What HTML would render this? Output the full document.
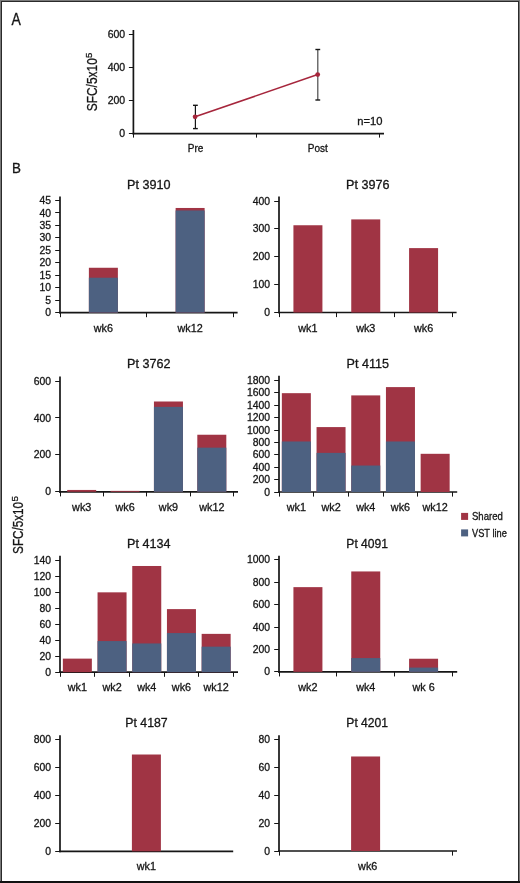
<!DOCTYPE html><html><head><meta charset="utf-8"><style>html,body{margin:0;padding:0;background:#fff;}body{width:520px;height:883px;overflow:hidden;}svg{display:block;will-change:transform;font-family:"Liberation Sans",sans-serif;}text{stroke:#151515;stroke-width:0.3px;}</style></head><body>
<svg width="520" height="883" viewBox="0 0 520 883">
<rect x="0" y="0" width="520" height="883" fill="#fff"/>
<text transform="translate(11.5,24.6) scale(0.9,1)" font-size="15.6" fill="#151515">A</text>
<line x1="133.4" y1="30" x2="133.4" y2="134.45" stroke="#161616" stroke-width="1.7"/>
<line x1="132.55" y1="133.6" x2="384" y2="133.6" stroke="#161616" stroke-width="1.7"/>
<line x1="128.9" y1="133.5" x2="133.4" y2="133.5" stroke="#151515" stroke-width="1.0"/>
<text x="125.2" y="137.3" font-size="10.5" text-anchor="end" fill="#151515">0</text>
<line x1="128.9" y1="100.5" x2="133.4" y2="100.5" stroke="#151515" stroke-width="1.0"/>
<text x="125.2" y="104.1" font-size="10.5" text-anchor="end" fill="#151515">200</text>
<line x1="128.9" y1="67.5" x2="133.4" y2="67.5" stroke="#151515" stroke-width="1.0"/>
<text x="125.2" y="70.9" font-size="10.5" text-anchor="end" fill="#151515">400</text>
<line x1="128.9" y1="34.5" x2="133.4" y2="34.5" stroke="#151515" stroke-width="1.0"/>
<text x="125.2" y="37.7" font-size="10.5" text-anchor="end" fill="#151515">600</text>
<line x1="133.5" y1="133.6" x2="133.5" y2="137.6" stroke="#151515" stroke-width="1.0"/>
<line x1="256.5" y1="133.6" x2="256.5" y2="137.6" stroke="#151515" stroke-width="1.0"/>
<line x1="379.5" y1="133.6" x2="379.5" y2="137.6" stroke="#151515" stroke-width="1.0"/>
<line x1="195.4" y1="105.3" x2="195.4" y2="128.6" stroke="#151515" stroke-width="1.2"/>
<line x1="193" y1="105.3" x2="197.8" y2="105.3" stroke="#151515" stroke-width="1.4"/>
<line x1="193" y1="128.6" x2="197.8" y2="128.6" stroke="#151515" stroke-width="1.4"/>
<line x1="317.8" y1="49.5" x2="317.8" y2="100" stroke="#4a4a4a" stroke-width="1.2"/>
<line x1="315.4" y1="49.5" x2="320.2" y2="49.5" stroke="#151515" stroke-width="1.4"/>
<line x1="315.4" y1="100" x2="320.2" y2="100" stroke="#151515" stroke-width="1.4"/>
<line x1="195.1" y1="116.8" x2="317.7" y2="74.6" stroke="#A6263C" stroke-width="1.6"/>
<circle cx="195.1" cy="116.8" r="2.4" fill="#A6263C"/>
<circle cx="317.7" cy="74.6" r="2.4" fill="#A6263C"/>
<text x="195.6" y="151.6" font-size="10.0" text-anchor="middle" fill="#151515">Pre</text>
<text x="317.8" y="151.6" font-size="10.0" text-anchor="middle" fill="#151515">Post</text>
<text x="382.4" y="124.6" font-size="10.6" text-anchor="end" fill="#151515" textLength="25.2" lengthAdjust="spacingAndGlyphs">n=10</text>
<text transform="translate(96.9,111.3) rotate(-90)" font-size="14.4" fill="#151515" textLength="53.2" lengthAdjust="spacingAndGlyphs">SFC/5x10</text>
<text transform="translate(92.4,58.0) rotate(-90)" font-size="9.6" fill="#151515">5</text>
<text transform="translate(11.9,172.8) scale(0.87,1)" font-size="15.4" fill="#151515">B</text>
<text transform="translate(23.3,553.9) rotate(-90)" font-size="14.4" fill="#151515" textLength="52.0" lengthAdjust="spacingAndGlyphs">SFC/5x10</text>
<text transform="translate(17.8,501.6) rotate(-90)" font-size="9.8" fill="#151515">5</text>
<text x="148.7" y="188.6" font-size="12.6" text-anchor="middle" fill="#151515">Pt 3910</text>
<line x1="60" y1="196.4" x2="60" y2="313.45" stroke="#161616" stroke-width="1.7"/>
<line x1="59.15" y1="312.6" x2="237.6" y2="312.6" stroke="#161616" stroke-width="1.7"/>
<line x1="55.2" y1="312.5" x2="60" y2="312.5" stroke="#151515" stroke-width="1.0"/>
<text x="51" y="316.2" font-size="10.4" text-anchor="end" fill="#151515">0</text>
<line x1="55.2" y1="300.5" x2="60" y2="300.5" stroke="#151515" stroke-width="1.0"/>
<text x="51" y="303.74" font-size="10.4" text-anchor="end" fill="#151515">5</text>
<line x1="55.2" y1="287.5" x2="60" y2="287.5" stroke="#151515" stroke-width="1.0"/>
<text x="51" y="291.29" font-size="10.4" text-anchor="end" fill="#151515">10</text>
<line x1="55.2" y1="275.5" x2="60" y2="275.5" stroke="#151515" stroke-width="1.0"/>
<text x="51" y="278.83" font-size="10.4" text-anchor="end" fill="#151515">15</text>
<line x1="55.2" y1="262.5" x2="60" y2="262.5" stroke="#151515" stroke-width="1.0"/>
<text x="51" y="266.38" font-size="10.4" text-anchor="end" fill="#151515">20</text>
<line x1="55.2" y1="250.5" x2="60" y2="250.5" stroke="#151515" stroke-width="1.0"/>
<text x="51" y="253.92" font-size="10.4" text-anchor="end" fill="#151515">25</text>
<line x1="55.2" y1="237.5" x2="60" y2="237.5" stroke="#151515" stroke-width="1.0"/>
<text x="51" y="241.47" font-size="10.4" text-anchor="end" fill="#151515">30</text>
<line x1="55.2" y1="225.5" x2="60" y2="225.5" stroke="#151515" stroke-width="1.0"/>
<text x="51" y="229.01" font-size="10.4" text-anchor="end" fill="#151515">35</text>
<line x1="55.2" y1="212.5" x2="60" y2="212.5" stroke="#151515" stroke-width="1.0"/>
<text x="51" y="216.56" font-size="10.4" text-anchor="end" fill="#151515">40</text>
<line x1="55.2" y1="200.5" x2="60" y2="200.5" stroke="#151515" stroke-width="1.0"/>
<text x="51" y="204.1" font-size="10.4" text-anchor="end" fill="#151515">45</text>
<line x1="60.5" y1="312.6" x2="60.5" y2="317.2" stroke="#151515" stroke-width="1.0"/>
<line x1="146.5" y1="312.6" x2="146.5" y2="317.2" stroke="#151515" stroke-width="1.0"/>
<line x1="233.5" y1="312.6" x2="233.5" y2="317.2" stroke="#151515" stroke-width="1.0"/>
<rect x="88.88" y="267.76" width="29" height="44.84" fill="#A03444"/>
<rect x="88.88" y="277.72" width="29" height="34.88" fill="#4D6181"/>
<text x="103.38" y="331.6" font-size="10.8" text-anchor="middle" fill="#151515">wk6</text>
<rect x="175.62" y="207.97" width="29" height="104.63" fill="#A03444"/>
<rect x="175.62" y="210.46" width="29" height="102.14" fill="#4D6181"/>
<text x="190.12" y="331.6" font-size="10.8" text-anchor="middle" fill="#151515">wk12</text>
<text x="367.8" y="188.6" font-size="12.6" text-anchor="middle" fill="#151515">Pt 3976</text>
<line x1="279" y1="196.6" x2="279" y2="313.35" stroke="#161616" stroke-width="1.7"/>
<line x1="278.15" y1="312.5" x2="456.6" y2="312.5" stroke="#161616" stroke-width="1.7"/>
<line x1="274.2" y1="312.5" x2="279" y2="312.5" stroke="#151515" stroke-width="1.0"/>
<text x="270" y="316.1" font-size="10.4" text-anchor="end" fill="#151515">0</text>
<line x1="274.2" y1="284.5" x2="279" y2="284.5" stroke="#151515" stroke-width="1.0"/>
<text x="270" y="288.23" font-size="10.4" text-anchor="end" fill="#151515">100</text>
<line x1="274.2" y1="256.5" x2="279" y2="256.5" stroke="#151515" stroke-width="1.0"/>
<text x="270" y="260.35" font-size="10.4" text-anchor="end" fill="#151515">200</text>
<line x1="274.2" y1="228.5" x2="279" y2="228.5" stroke="#151515" stroke-width="1.0"/>
<text x="270" y="232.47" font-size="10.4" text-anchor="end" fill="#151515">300</text>
<line x1="274.2" y1="201.5" x2="279" y2="201.5" stroke="#151515" stroke-width="1.0"/>
<text x="270" y="204.6" font-size="10.4" text-anchor="end" fill="#151515">400</text>
<line x1="279.5" y1="312.5" x2="279.5" y2="317.1" stroke="#151515" stroke-width="1.0"/>
<line x1="336.5" y1="312.5" x2="336.5" y2="317.1" stroke="#151515" stroke-width="1.0"/>
<line x1="394.5" y1="312.5" x2="394.5" y2="317.1" stroke="#151515" stroke-width="1.0"/>
<line x1="452.5" y1="312.5" x2="452.5" y2="317.1" stroke="#151515" stroke-width="1.0"/>
<rect x="293.42" y="225.25" width="29" height="87.25" fill="#A03444"/>
<text x="307.92" y="331.6" font-size="10.8" text-anchor="middle" fill="#151515">wk1</text>
<rect x="351.25" y="219.4" width="29" height="93.1" fill="#A03444"/>
<text x="365.75" y="331.6" font-size="10.8" text-anchor="middle" fill="#151515">wk3</text>
<rect x="409.08" y="248.11" width="29" height="64.39" fill="#A03444"/>
<text x="423.58" y="331.6" font-size="10.8" text-anchor="middle" fill="#151515">wk6</text>
<text x="148.7" y="367.8" font-size="12.6" text-anchor="middle" fill="#151515">Pt 3762</text>
<line x1="60" y1="376.6" x2="60" y2="492.65" stroke="#161616" stroke-width="1.7"/>
<line x1="59.15" y1="491.8" x2="238" y2="491.8" stroke="#161616" stroke-width="1.7"/>
<line x1="55.2" y1="491.5" x2="60" y2="491.5" stroke="#151515" stroke-width="1.0"/>
<text x="51" y="495.4" font-size="10.4" text-anchor="end" fill="#151515">0</text>
<line x1="55.2" y1="454.5" x2="60" y2="454.5" stroke="#151515" stroke-width="1.0"/>
<text x="51" y="458.47" font-size="10.4" text-anchor="end" fill="#151515">200</text>
<line x1="55.2" y1="417.5" x2="60" y2="417.5" stroke="#151515" stroke-width="1.0"/>
<text x="51" y="421.53" font-size="10.4" text-anchor="end" fill="#151515">400</text>
<line x1="55.2" y1="381.5" x2="60" y2="381.5" stroke="#151515" stroke-width="1.0"/>
<text x="51" y="384.6" font-size="10.4" text-anchor="end" fill="#151515">600</text>
<line x1="60.5" y1="491.8" x2="60.5" y2="496.4" stroke="#151515" stroke-width="1.0"/>
<line x1="103.5" y1="491.8" x2="103.5" y2="496.4" stroke="#151515" stroke-width="1.0"/>
<line x1="146.5" y1="491.8" x2="146.5" y2="496.4" stroke="#151515" stroke-width="1.0"/>
<line x1="190.5" y1="491.8" x2="190.5" y2="496.4" stroke="#151515" stroke-width="1.0"/>
<line x1="233.5" y1="491.8" x2="233.5" y2="496.4" stroke="#151515" stroke-width="1.0"/>
<rect x="67.19" y="489.95" width="29" height="1.85" fill="#A03444"/>
<text x="81.69" y="511.2" font-size="10.8" text-anchor="middle" fill="#151515">wk3</text>
<rect x="110.56" y="490.88" width="29" height="0.92" fill="#A03444"/>
<text x="125.06" y="511.2" font-size="10.8" text-anchor="middle" fill="#151515">wk6</text>
<rect x="153.94" y="401.5" width="29" height="90.3" fill="#A03444"/>
<rect x="153.94" y="406.85" width="29" height="84.95" fill="#4D6181"/>
<text x="168.44" y="511.2" font-size="10.8" text-anchor="middle" fill="#151515">wk9</text>
<rect x="197.31" y="434.74" width="29" height="57.06" fill="#A03444"/>
<rect x="197.31" y="447.66" width="29" height="44.14" fill="#4D6181"/>
<text x="211.81" y="511.2" font-size="10.8" text-anchor="middle" fill="#151515">wk12</text>
<text x="367.8" y="367.8" font-size="12.6" text-anchor="middle" fill="#151515">Pt 4115</text>
<line x1="279" y1="375.8" x2="279" y2="492.85" stroke="#161616" stroke-width="1.7"/>
<line x1="278.15" y1="492" x2="457.2" y2="492" stroke="#161616" stroke-width="1.7"/>
<line x1="274.2" y1="492.5" x2="279" y2="492.5" stroke="#151515" stroke-width="1.0"/>
<text x="270" y="495.6" font-size="10.4" text-anchor="end" fill="#151515">0</text>
<line x1="274.2" y1="479.5" x2="279" y2="479.5" stroke="#151515" stroke-width="1.0"/>
<text x="270" y="483.2" font-size="10.4" text-anchor="end" fill="#151515">200</text>
<line x1="274.2" y1="467.5" x2="279" y2="467.5" stroke="#151515" stroke-width="1.0"/>
<text x="270" y="470.8" font-size="10.4" text-anchor="end" fill="#151515">400</text>
<line x1="274.2" y1="454.5" x2="279" y2="454.5" stroke="#151515" stroke-width="1.0"/>
<text x="270" y="458.4" font-size="10.4" text-anchor="end" fill="#151515">600</text>
<line x1="274.2" y1="442.5" x2="279" y2="442.5" stroke="#151515" stroke-width="1.0"/>
<text x="270" y="446" font-size="10.4" text-anchor="end" fill="#151515">800</text>
<line x1="274.2" y1="430.5" x2="279" y2="430.5" stroke="#151515" stroke-width="1.0"/>
<text x="270" y="433.6" font-size="10.4" text-anchor="end" fill="#151515">1000</text>
<line x1="274.2" y1="417.5" x2="279" y2="417.5" stroke="#151515" stroke-width="1.0"/>
<text x="270" y="421.2" font-size="10.4" text-anchor="end" fill="#151515">1200</text>
<line x1="274.2" y1="405.5" x2="279" y2="405.5" stroke="#151515" stroke-width="1.0"/>
<text x="270" y="408.8" font-size="10.4" text-anchor="end" fill="#151515">1400</text>
<line x1="274.2" y1="392.5" x2="279" y2="392.5" stroke="#151515" stroke-width="1.0"/>
<text x="270" y="396.4" font-size="10.4" text-anchor="end" fill="#151515">1600</text>
<line x1="274.2" y1="380.5" x2="279" y2="380.5" stroke="#151515" stroke-width="1.0"/>
<text x="270" y="384" font-size="10.4" text-anchor="end" fill="#151515">1800</text>
<line x1="279.5" y1="492" x2="279.5" y2="496.6" stroke="#151515" stroke-width="1.0"/>
<line x1="313.5" y1="492" x2="313.5" y2="496.6" stroke="#151515" stroke-width="1.0"/>
<line x1="348.5" y1="492" x2="348.5" y2="496.6" stroke="#151515" stroke-width="1.0"/>
<line x1="383.5" y1="492" x2="383.5" y2="496.6" stroke="#151515" stroke-width="1.0"/>
<line x1="417.5" y1="492" x2="417.5" y2="496.6" stroke="#151515" stroke-width="1.0"/>
<line x1="452.5" y1="492" x2="452.5" y2="496.6" stroke="#151515" stroke-width="1.0"/>
<rect x="281.85" y="393.17" width="29" height="98.83" fill="#A03444"/>
<rect x="281.85" y="441.47" width="29" height="50.53" fill="#4D6181"/>
<text x="296.35" y="511.2" font-size="10.8" text-anchor="middle" fill="#151515">wk1</text>
<rect x="316.55" y="427.09" width="29" height="64.91" fill="#A03444"/>
<rect x="316.55" y="452.88" width="29" height="39.12" fill="#4D6181"/>
<text x="331.05" y="511.2" font-size="10.8" text-anchor="middle" fill="#151515">wk2</text>
<rect x="351.25" y="395.4" width="29" height="96.6" fill="#A03444"/>
<rect x="351.25" y="465.53" width="29" height="26.47" fill="#4D6181"/>
<text x="365.75" y="511.2" font-size="10.8" text-anchor="middle" fill="#151515">wk4</text>
<rect x="385.95" y="387.1" width="29" height="104.9" fill="#A03444"/>
<rect x="385.95" y="441.47" width="29" height="50.53" fill="#4D6181"/>
<text x="400.45" y="511.2" font-size="10.8" text-anchor="middle" fill="#151515">wk6</text>
<rect x="420.65" y="453.81" width="29" height="38.19" fill="#A03444"/>
<text x="435.15" y="511.2" font-size="10.8" text-anchor="middle" fill="#151515">wk12</text>
<rect x="461.1" y="512.9" width="7" height="7" fill="#A03444"/>
<rect x="461.1" y="529.4" width="7" height="7" fill="#4D6181"/>
<text x="472.0" y="520.2" font-size="10" fill="#151515" textLength="30.8" lengthAdjust="spacingAndGlyphs">Shared</text>
<text x="472.0" y="536.6" font-size="10" fill="#151515" textLength="34.8" lengthAdjust="spacingAndGlyphs">VST line</text>
<text x="148.7" y="548.1" font-size="12.6" text-anchor="middle" fill="#151515">Pt 4134</text>
<line x1="60" y1="555.8" x2="60" y2="673.05" stroke="#161616" stroke-width="1.7"/>
<line x1="59.15" y1="672.2" x2="238" y2="672.2" stroke="#161616" stroke-width="1.7"/>
<line x1="55.2" y1="672.5" x2="60" y2="672.5" stroke="#151515" stroke-width="1.0"/>
<text x="51" y="675.8" font-size="10.4" text-anchor="end" fill="#151515">0</text>
<line x1="55.2" y1="656.5" x2="60" y2="656.5" stroke="#151515" stroke-width="1.0"/>
<text x="51" y="659.83" font-size="10.4" text-anchor="end" fill="#151515">20</text>
<line x1="55.2" y1="640.5" x2="60" y2="640.5" stroke="#151515" stroke-width="1.0"/>
<text x="51" y="643.86" font-size="10.4" text-anchor="end" fill="#151515">40</text>
<line x1="55.2" y1="624.5" x2="60" y2="624.5" stroke="#151515" stroke-width="1.0"/>
<text x="51" y="627.89" font-size="10.4" text-anchor="end" fill="#151515">60</text>
<line x1="55.2" y1="608.5" x2="60" y2="608.5" stroke="#151515" stroke-width="1.0"/>
<text x="51" y="611.91" font-size="10.4" text-anchor="end" fill="#151515">80</text>
<line x1="55.2" y1="592.5" x2="60" y2="592.5" stroke="#151515" stroke-width="1.0"/>
<text x="51" y="595.94" font-size="10.4" text-anchor="end" fill="#151515">100</text>
<line x1="55.2" y1="576.5" x2="60" y2="576.5" stroke="#151515" stroke-width="1.0"/>
<text x="51" y="579.97" font-size="10.4" text-anchor="end" fill="#151515">120</text>
<line x1="55.2" y1="560.5" x2="60" y2="560.5" stroke="#151515" stroke-width="1.0"/>
<text x="51" y="564" font-size="10.4" text-anchor="end" fill="#151515">140</text>
<line x1="60.5" y1="672.2" x2="60.5" y2="676.8" stroke="#151515" stroke-width="1.0"/>
<line x1="94.5" y1="672.2" x2="94.5" y2="676.8" stroke="#151515" stroke-width="1.0"/>
<line x1="129.5" y1="672.2" x2="129.5" y2="676.8" stroke="#151515" stroke-width="1.0"/>
<line x1="164.5" y1="672.2" x2="164.5" y2="676.8" stroke="#151515" stroke-width="1.0"/>
<line x1="198.5" y1="672.2" x2="198.5" y2="676.8" stroke="#151515" stroke-width="1.0"/>
<line x1="233.5" y1="672.2" x2="233.5" y2="676.8" stroke="#151515" stroke-width="1.0"/>
<rect x="62.85" y="658.62" width="29" height="13.58" fill="#A03444"/>
<text x="77.35" y="690.9" font-size="10.8" text-anchor="middle" fill="#151515">wk1</text>
<rect x="97.55" y="592.34" width="29" height="79.86" fill="#A03444"/>
<rect x="97.55" y="641.06" width="29" height="31.14" fill="#4D6181"/>
<text x="112.05" y="690.9" font-size="10.8" text-anchor="middle" fill="#151515">wk2</text>
<rect x="132.25" y="565.99" width="29" height="106.21" fill="#A03444"/>
<rect x="132.25" y="643.45" width="29" height="28.75" fill="#4D6181"/>
<text x="146.75" y="690.9" font-size="10.8" text-anchor="middle" fill="#151515">wk4</text>
<rect x="166.95" y="609.11" width="29" height="63.09" fill="#A03444"/>
<rect x="166.95" y="633.07" width="29" height="39.13" fill="#4D6181"/>
<text x="181.45" y="690.9" font-size="10.8" text-anchor="middle" fill="#151515">wk6</text>
<rect x="201.65" y="633.87" width="29" height="38.33" fill="#A03444"/>
<rect x="201.65" y="646.65" width="29" height="25.55" fill="#4D6181"/>
<text x="216.15" y="690.9" font-size="10.8" text-anchor="middle" fill="#151515">wk12</text>
<text x="367.2" y="548.1" font-size="12.6" text-anchor="middle" fill="#151515" textLength="41.8" lengthAdjust="spacingAndGlyphs">Pt 4091</text>
<line x1="279" y1="555.7" x2="279" y2="672.7" stroke="#161616" stroke-width="1.7"/>
<line x1="278.15" y1="671.85" x2="457.2" y2="671.85" stroke="#161616" stroke-width="1.7"/>
<line x1="274.2" y1="671.5" x2="279" y2="671.5" stroke="#151515" stroke-width="1.0"/>
<text x="270" y="675.45" font-size="10.4" text-anchor="end" fill="#151515">0</text>
<line x1="274.2" y1="649.5" x2="279" y2="649.5" stroke="#151515" stroke-width="1.0"/>
<text x="270" y="653.04" font-size="10.4" text-anchor="end" fill="#151515">200</text>
<line x1="274.2" y1="627.5" x2="279" y2="627.5" stroke="#151515" stroke-width="1.0"/>
<text x="270" y="630.63" font-size="10.4" text-anchor="end" fill="#151515">400</text>
<line x1="274.2" y1="604.5" x2="279" y2="604.5" stroke="#151515" stroke-width="1.0"/>
<text x="270" y="608.22" font-size="10.4" text-anchor="end" fill="#151515">600</text>
<line x1="274.2" y1="582.5" x2="279" y2="582.5" stroke="#151515" stroke-width="1.0"/>
<text x="270" y="585.81" font-size="10.4" text-anchor="end" fill="#151515">800</text>
<line x1="274.2" y1="559.5" x2="279" y2="559.5" stroke="#151515" stroke-width="1.0"/>
<text x="270" y="563.4" font-size="10.4" text-anchor="end" fill="#151515">1000</text>
<line x1="279.5" y1="671.85" x2="279.5" y2="676.45" stroke="#151515" stroke-width="1.0"/>
<line x1="336.5" y1="671.85" x2="336.5" y2="676.45" stroke="#151515" stroke-width="1.0"/>
<line x1="394.5" y1="671.85" x2="394.5" y2="676.45" stroke="#151515" stroke-width="1.0"/>
<line x1="452.5" y1="671.85" x2="452.5" y2="676.45" stroke="#151515" stroke-width="1.0"/>
<rect x="293.42" y="587.14" width="29" height="84.71" fill="#A03444"/>
<text x="307.92" y="690.9" font-size="10.8" text-anchor="middle" fill="#151515">wk2</text>
<rect x="351.25" y="571.45" width="29" height="100.4" fill="#A03444"/>
<rect x="351.25" y="658.07" width="29" height="13.78" fill="#4D6181"/>
<text x="365.75" y="690.9" font-size="10.8" text-anchor="middle" fill="#151515">wk4</text>
<rect x="409.08" y="658.74" width="29" height="13.11" fill="#A03444"/>
<rect x="409.08" y="667.59" width="29" height="4.26" fill="#4D6181"/>
<text x="423.58" y="690.9" font-size="10.8" text-anchor="middle" fill="#151515">wk 6</text>
<text x="146.5" y="727.2" font-size="12.6" text-anchor="middle" fill="#151515" textLength="42.4" lengthAdjust="spacingAndGlyphs">Pt 4187</text>
<line x1="60" y1="735.2" x2="60" y2="852.15" stroke="#161616" stroke-width="1.7"/>
<line x1="59.15" y1="851.3" x2="233.2" y2="851.3" stroke="#161616" stroke-width="1.7"/>
<line x1="55.2" y1="851.5" x2="60" y2="851.5" stroke="#151515" stroke-width="1.0"/>
<text x="51" y="854.9" font-size="10.4" text-anchor="end" fill="#151515">0</text>
<line x1="55.2" y1="823.5" x2="60" y2="823.5" stroke="#151515" stroke-width="1.0"/>
<text x="51" y="826.92" font-size="10.4" text-anchor="end" fill="#151515">200</text>
<line x1="55.2" y1="795.5" x2="60" y2="795.5" stroke="#151515" stroke-width="1.0"/>
<text x="51" y="798.95" font-size="10.4" text-anchor="end" fill="#151515">400</text>
<line x1="55.2" y1="767.5" x2="60" y2="767.5" stroke="#151515" stroke-width="1.0"/>
<text x="51" y="770.98" font-size="10.4" text-anchor="end" fill="#151515">600</text>
<line x1="55.2" y1="739.5" x2="60" y2="739.5" stroke="#151515" stroke-width="1.0"/>
<text x="51" y="743" font-size="10.4" text-anchor="end" fill="#151515">800</text>
<rect x="131.9" y="754.51" width="29" height="96.79" fill="#A03444"/>
<text x="146.4" y="870.4" font-size="10.8" text-anchor="middle" fill="#151515">wk1</text>
<text x="367.2" y="727.2" font-size="12.6" text-anchor="middle" fill="#151515" textLength="41.8" lengthAdjust="spacingAndGlyphs">Pt 4201</text>
<line x1="279" y1="735.2" x2="279" y2="851.85" stroke="#161616" stroke-width="1.7"/>
<line x1="278.15" y1="851" x2="457" y2="851" stroke="#161616" stroke-width="1.7"/>
<line x1="274.2" y1="851.5" x2="279" y2="851.5" stroke="#151515" stroke-width="1.0"/>
<text x="270" y="854.6" font-size="10.4" text-anchor="end" fill="#151515">0</text>
<line x1="274.2" y1="823.5" x2="279" y2="823.5" stroke="#151515" stroke-width="1.0"/>
<text x="270" y="826.8" font-size="10.4" text-anchor="end" fill="#151515">20</text>
<line x1="274.2" y1="795.5" x2="279" y2="795.5" stroke="#151515" stroke-width="1.0"/>
<text x="270" y="799" font-size="10.4" text-anchor="end" fill="#151515">40</text>
<line x1="274.2" y1="767.5" x2="279" y2="767.5" stroke="#151515" stroke-width="1.0"/>
<text x="270" y="771.2" font-size="10.4" text-anchor="end" fill="#151515">60</text>
<line x1="274.2" y1="739.5" x2="279" y2="739.5" stroke="#151515" stroke-width="1.0"/>
<text x="270" y="743.4" font-size="10.4" text-anchor="end" fill="#151515">80</text>
<line x1="279.5" y1="851" x2="279.5" y2="855.6" stroke="#151515" stroke-width="1.0"/>
<line x1="452.5" y1="851" x2="452.5" y2="855.6" stroke="#151515" stroke-width="1.0"/>
<rect x="351.1" y="756.48" width="29" height="94.52" fill="#A03444"/>
<text x="367.7" y="870.4" font-size="10.8" text-anchor="middle" fill="#151515">wk6</text>
<rect x="0" y="0" width="520" height="1" fill="#7a7a7a"/>
<rect x="0" y="0" width="1" height="883" fill="#7a7a7a"/>
<rect x="519" y="0" width="1" height="883" fill="#7a7a7a"/>
<rect x="1" y="1" width="518" height="1" fill="#2a2a2a"/>
<rect x="1" y="1" width="1" height="881" fill="#2a2a2a"/>
<rect x="518" y="1" width="1" height="881" fill="#2a2a2a"/>
<rect x="0" y="881" width="520" height="2" fill="#111"/>
</svg></body></html>
